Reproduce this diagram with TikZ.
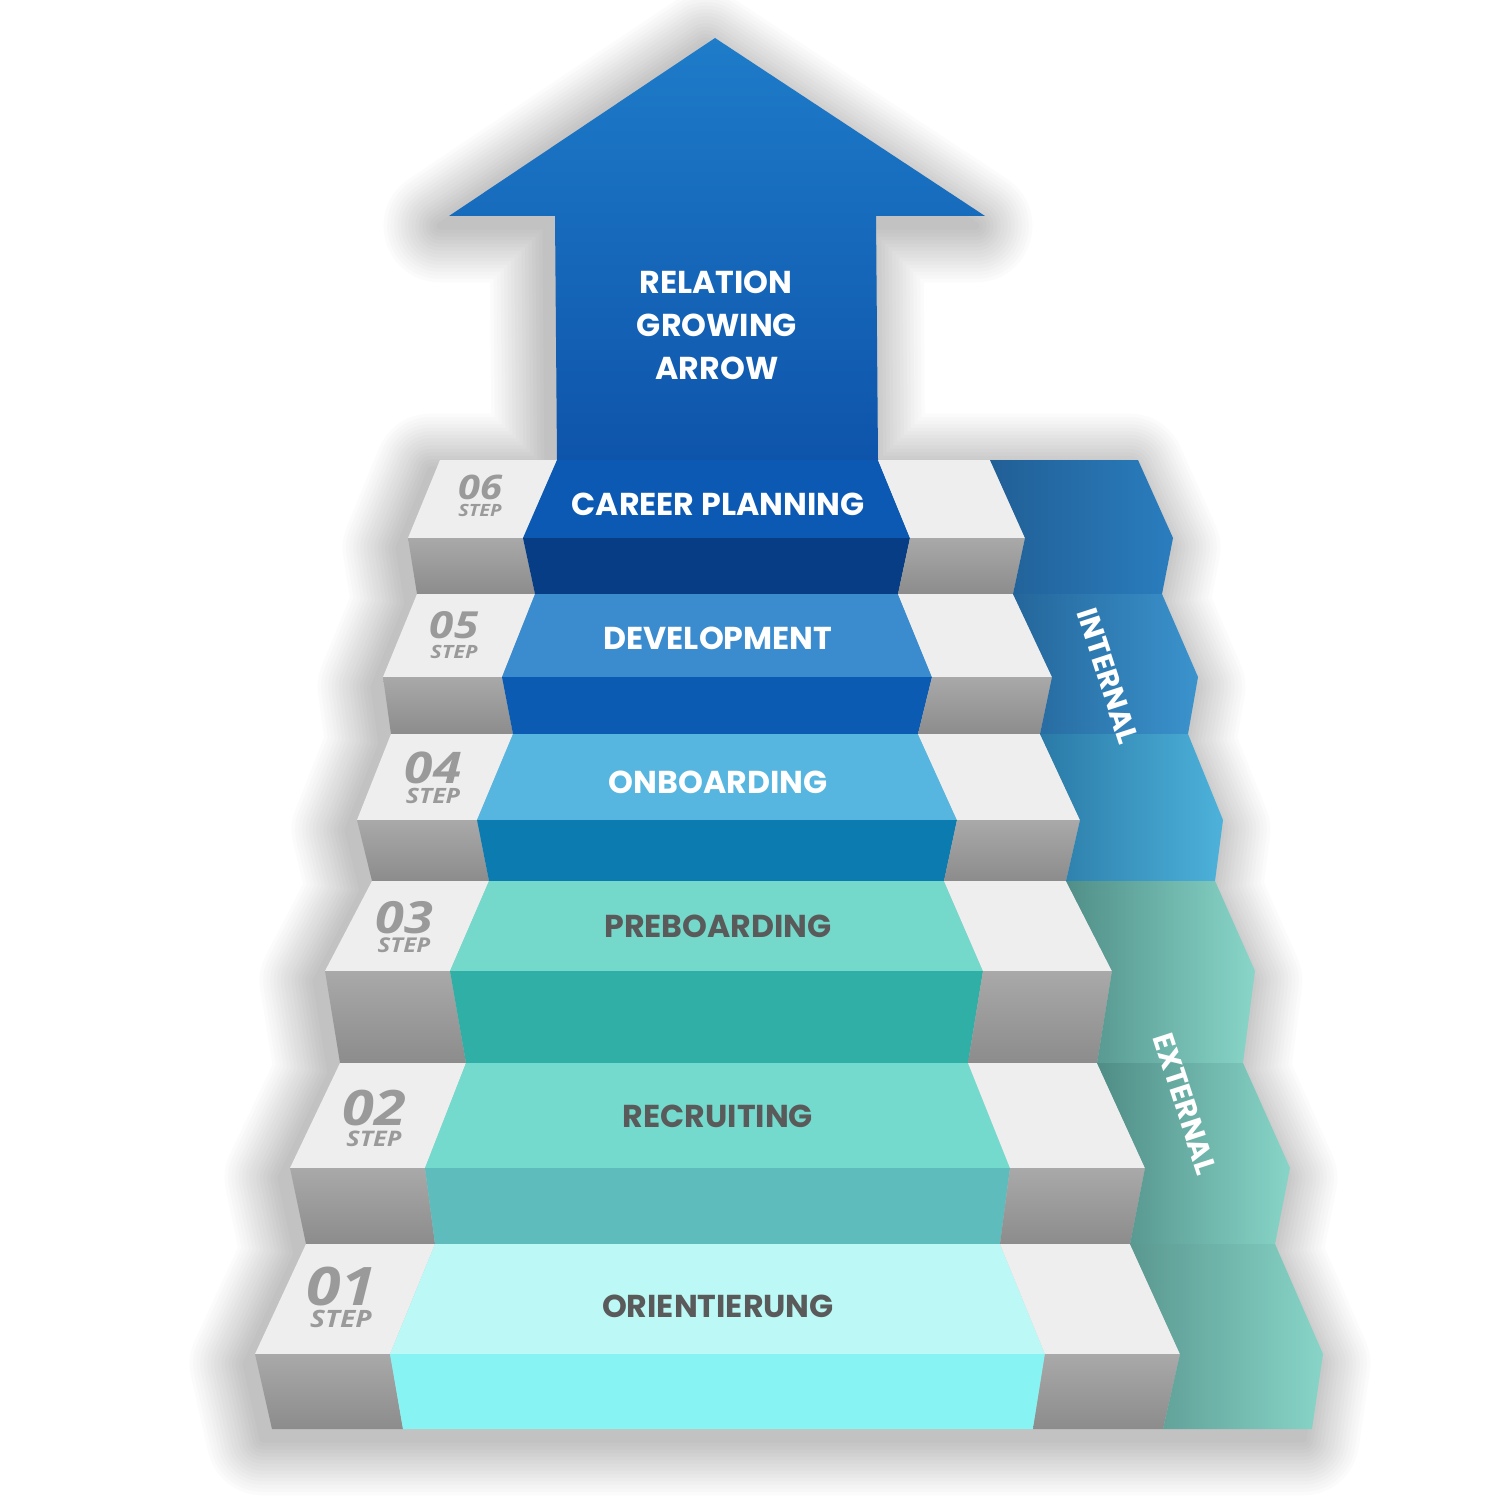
\documentclass[tikz,border=0pt]{standalone}
\usepackage{fontspec}
\newfontfamily\popfont{Poppins}
\newfontfamily\numfont{Open Sans}[FakeStretch=1.18]
\definecolor{c6t}{HTML}{0C59B3}\definecolor{c6f}{HTML}{063D85}
\definecolor{c5t}{HTML}{3A8CCF}\definecolor{c5f}{HTML}{0B5BB3}
\definecolor{c4t}{HTML}{56B6DF}\definecolor{c4f}{HTML}{0C7BB0}
\definecolor{c3t}{HTML}{74D8CA}\definecolor{c3f}{HTML}{2FAFA5}
\definecolor{c2t}{HTML}{74DACD}\definecolor{c2f}{HTML}{5EBCBC}
\definecolor{c1t}{HTML}{BBF8F6}\definecolor{c1f}{HTML}{87F3F3}
\definecolor{b6l}{HTML}{215F96}\definecolor{b6r}{HTML}{2A7DBE}
\definecolor{b5l}{HTML}{24669B}\definecolor{b5r}{HTML}{3B93CD}
\definecolor{b4l}{HTML}{2A7AA7}\definecolor{b4r}{HTML}{4DB2DA}
\definecolor{b3l}{HTML}{508F88}\definecolor{b3r}{HTML}{89D6C9}
\definecolor{b2l}{HTML}{4F8D86}\definecolor{b2r}{HTML}{88D5C8}
\definecolor{b1l}{HTML}{5A9890}\definecolor{b1r}{HTML}{88D5C8}
\definecolor{graytop}{HTML}{EEEEEE}
\definecolor{gfa}{HTML}{A9A9A9}\definecolor{gfb}{HTML}{8C8C8C}
\definecolor{arrtop}{HTML}{1E7CC9}\definecolor{arrbot}{HTML}{0E54AB}
\definecolor{labgray}{HTML}{5A5A5A}
\definecolor{numgray}{HTML}{9A9A9A}
\tikzset{
  lab/.style={font=\popfont\bfseries\fontsize{9}{9}\selectfont, inner sep=0pt},
  bandlab/.style={font=\popfont\bfseries\fontsize{8.3}{8.3}\selectfont, inner sep=0pt, text=white, rotate=-72},
  numlab/.style={inner sep=0pt, text=numgray, align=center},
}
\newcommand\stepnum[7]{% name, x, y, numsize, stepsize, baseline distance (pt), number
  \node[numlab, font=\numfont\bfseries\itshape\fontsize{#5}{#6}\selectfont] (#1) at (#2,#3)
    {{\fontsize{#4}{#4}\selectfont #7}\\{\fontsize{#5}{#6}\selectfont STEP}};}
\begin{document}
\begin{tikzpicture}[x=0.01cm,y=-0.01cm]
\useasboundingbox (0,0) rectangle (1500,1500);
\fill[white] (0,0) rectangle (1500,1500);
\def\sil{(440,460) -- (408,538) -- (417,594) -- (383,677) -- (391,734) -- (357,820) -- (372,881) -- (325,971) -- (340,1063) -- (290,1168) -- (306,1244) -- (255,1354) -- (272,1429) -- (1312,1429) -- (1323,1354) -- (1275,1244) -- (1290,1168) -- (1243,1063) -- (1255,971) -- (1215,881) -- (1223,820) -- (1188,734) -- (1198,677) -- (1162,594) -- (1173,538) -- (1138,460) -- cycle}
\def\arr{(715,38) -- (985,216) -- (876,216) -- (878,460) -- (557,460) -- (555,216) -- (449,216) -- cycle}
% soft shadow
\begin{scope}[shift={(-9,10)}, line join=round]
\foreach \k in {1,...,16}{
  \pgfmathsetmacro\w{34-2*\k}
  \pgfmathsetmacro\c{1.5*\k}
  \draw[line width=\w pt, draw=black!\c, fill=black!\c] \sil;
  \draw[line width=\w pt, draw=black!\c, fill=black!\c] \arr;
}
\end{scope}
% arrow
\shade[top color=arrtop, bottom color=arrbot] \arr;
% steps
\foreach \i/\yt/\ym/\yb/\la/\lb/\lc/\ca/\cb/\cc/\ra/\rb/\rc/\wa/\wb/\wc/\ba/\bb/\bc in {
 6/460/538/594/440/408/417/557/523/535/878/910/898/990/1025/1013/1138/1173/1162,
 5/594/677/734/417/383/391/535/502/513/898/932/918/1013/1052/1040/1162/1198/1188,
 4/734/820/881/391/357/372/513/477/489/918/957/944/1040/1080/1066/1188/1223/1215,
 3/881/971/1063/372/325/340/489/450/466/944/983/968/1066/1112/1097/1215/1255/1243,
 2/1063/1168/1244/340/290/306/466/425/435/968/1010/1000/1097/1145/1130/1243/1290/1275,
 1/1244/1354/1429/306/255/272/435/390/403/1000/1045/1033/1130/1180/1163/1275/1323/1312}{
  \fill[graytop] (\la,\yt) -- (\ca,\yt) -- (\cb,\ym) -- (\lb,\ym) -- cycle;
  \shade[top color=gfa, bottom color=gfb] (\lb,\ym) -- (\cb,\ym) -- (\cc,\yb) -- (\lc,\yb) -- cycle;
  \fill[c\i t] (\ca,\yt) -- (\ra,\yt) -- (\rb,\ym) -- (\cb,\ym) -- cycle;
  \fill[c\i f] (\cb,\ym) -- (\rb,\ym) -- (\rc,\yb) -- (\cc,\yb) -- cycle;
  \fill[graytop] (\ra,\yt) -- (\wa,\yt) -- (\wb,\ym) -- (\rb,\ym) -- cycle;
  \shade[top color=gfa, bottom color=gfb] (\rb,\ym) -- (\wb,\ym) -- (\wc,\yb) -- (\rc,\yb) -- cycle;
  \shade[left color=b\i l, middle color=b\i r!80!b\i l, right color=b\i r] (\wa,\yt) -- (\ba,\yt) -- (\bb,\ym) -- (\bc,\yb) -- (\wc,\yb) -- (\wb,\ym) -- cycle;
}
% texts
\node[lab, text=white] (rel1) at (716,282) {RELATION};
\node[lab, text=white] (rel2) at (717,325) {GROWING};
\node[lab, text=white] (rel3) at (717,368) {ARROW};
\node[lab, text=white] (s6) at (718,504) {CAREER PLANNING};
\node[lab, text=white] (s5) at (718,638) {DEVELOPMENT};
\node[lab, text=white] (s4) at (718,782) {ONBOARDING};
\node[lab, text=labgray] (s3) at (718,926) {PREBOARDING};
\node[lab, text=labgray] (s2) at (718,1116) {RECRUITING};
\node[lab, text=labgray] (s1) at (718,1306) {ORIENTIERUNG};
\node[bandlab] (intl) at (1108,676) {INTERNAL};
\node[bandlab] (extl) at (1185,1104) {EXTERNAL};
% step numbers
\stepnum{n6}{480}{496}{9.6}{4.8}{4.9}{06}
\stepnum{n5}{454}{635}{10.6}{5.2}{5.7}{05}
\stepnum{n4}{433}{778}{12.4}{6}{5.7}{04}
\stepnum{n3}{404}{927}{12.6}{5.8}{5.5}{03}
\stepnum{n2}{374}{1118}{13.9}{6.1}{6}{02}
\stepnum{n1}{341}{1297}{15.1}{6.8}{6.3}{01}
\end{tikzpicture}
\end{document}
